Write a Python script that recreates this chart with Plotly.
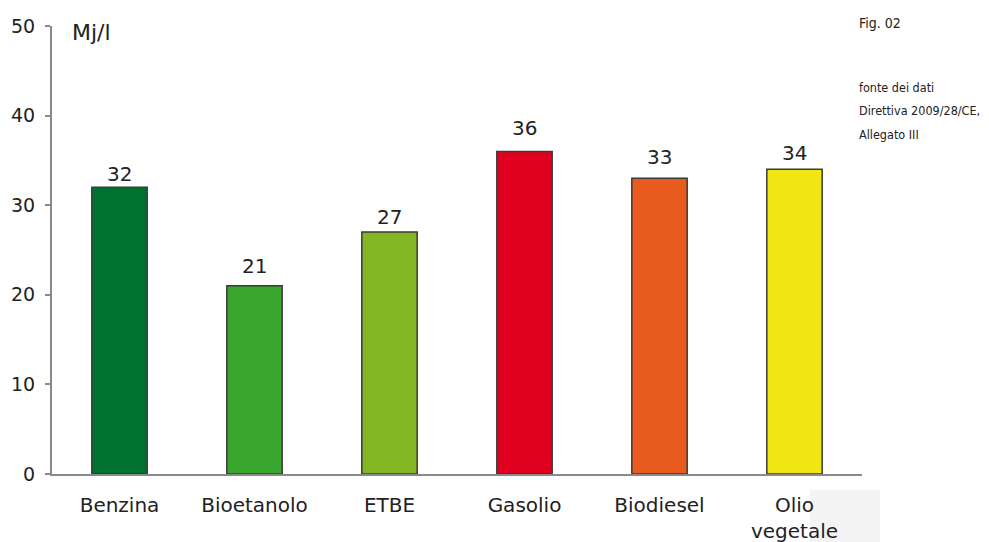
import plotly.graph_objects as go

categories = ["Benzina", "Bioetanolo", "ETBE", "Gasolio", "Biodiesel", "Olio<br>vegetale"]
values = [32, 21, 27, 36, 33, 34]
colors = ["#007230", "#3aa62e", "#82b623", "#e00020", "#e95a1e", "#f0e614"]
y_ticks = [0, 10, 20, 30, 40, 50]
side_lines = ["fonte dei dati", "Direttiva 2009/28/CE,", "Allegato III"]

# label offsets above bars (pixels), as placed in the original figure
label_shift = [-1, 6, 1, 9, 7, 2]

FONT = "DejaVu Sans"
NARROW = "DejaVu Sans Condensed"
TXT = "#222222"

# page offset of 8px (browser body margin) compensated
W, H = 981, 534
L, T = 44, 18
PW, PH = 810, 448

fig = go.Figure()
fig.add_trace(go.Bar(
    x=categories, y=values,
    marker=dict(color=colors, line=dict(color="#3a3a3a", width=1.5)),
    width=0.41, hoverinfo="x+y",
))

annotations = []
for c, v, s in zip(categories, values, label_shift):
    annotations.append(dict(x=c, y=v, text=str(v), xref="x", yref="y", showarrow=False,
                            yanchor="bottom", yshift=s,
                            font=dict(family=FONT, size=20, color=TXT)))

annotations.append(dict(text="Mj/l", xref="paper", yref="paper", x=(70 - 52) / PW, y=1.0,
                        xanchor="left", yanchor="middle", yshift=-6, showarrow=False,
                        font=dict(family=FONT, size=22, color=TXT)))
annotations.append(dict(text="Fig. 02", xref="paper", yref="paper", x=(857 - 52) / PW,
                        y=1 - (23 - 26) / PH, xanchor="left", yanchor="middle", showarrow=False,
                        font=dict(family=NARROW, size=14, color=TXT)))
for i, s in enumerate(side_lines):
    yc = 87 + 24 * i
    annotations.append(dict(text=s, xref="paper", yref="paper", x=(857 - 52) / PW,
                            y=1 - (yc - 26) / PH, xanchor="left", yanchor="middle",
                            showarrow=False,
                            font=dict(family=NARROW, size=12.5, color=TXT)))

fig.update_layout(
    template="none",
    width=W, height=H,
    margin=dict(l=L, r=W - L - PW, t=T, b=H - T - PH, pad=0, autoexpand=False),
    paper_bgcolor="white", plot_bgcolor="white",
    showlegend=False,
    xaxis=dict(showline=True, linecolor="#8a8a8a", linewidth=2, ticks="", automargin=False,
               tickfont=dict(family=FONT, size=20, color=TXT), ticklabelstandoff=12,
               showgrid=False, range=[-0.5, 5.5], fixedrange=True),
    yaxis=dict(range=[0, 50], tickvals=y_ticks, showline=True, linecolor="#8a8a8a",
               linewidth=2, ticks="outside", ticklen=5, tickcolor="#8a8a8a", tickwidth=2,
               automargin=False,
               tickfont=dict(family=FONT, size=19, color=TXT), ticklabelstandoff=6,
               showgrid=False, zeroline=False, fixedrange=True),
    shapes=[dict(type="rect", xref="paper", yref="paper", x0=(810 - 52) / PW, x1=(880 - 52) / PW,
                 y0=(474 - 542) / PH, y1=(474 - 490) / PH, fillcolor="#f4f4f4",
                 line=dict(width=0), layer="below")],
    annotations=annotations,
)

fig.write_html("out.html", config={"displayModeBar": False})
